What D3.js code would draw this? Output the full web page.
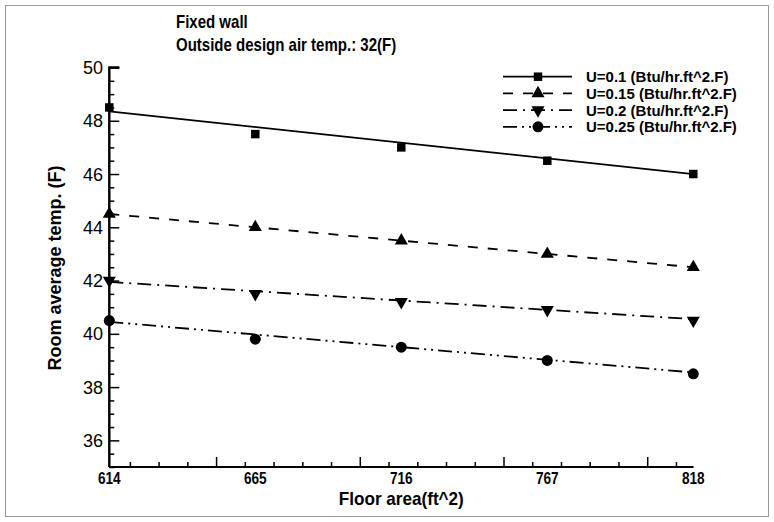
<!DOCTYPE html>
<html>
<head>
<meta charset="utf-8">
<script src="https://cdn.jsdelivr.net/npm/d3@7"></script>
<style>
  body { margin: 0; background: #fff; }
  .narrow { font-family: "Liberation Sans Narrow", "Arial Narrow", "Liberation Sans", Arial, sans-serif; font-weight: bold; }
  .plain { font-family: "Liberation Sans", Arial, sans-serif; }
</style>
</head>
<body>
<div id="chart"></div>
<script>
/////////////////////////////////////////////////////////////// Data //////////////////////////////////////////////////////////
const floorArea = [614, 665, 716, 767, 818];
const seriesNames = ["U=0.1 (Btu/hr.ft^2.F)", "U=0.15 (Btu/hr.ft^2.F)", "U=0.2 (Btu/hr.ft^2.F)", "U=0.25 (Btu/hr.ft^2.F)"];
const u010 = [48.5, 47.5, 47.0, 46.5, 46.0];
const u015 = [44.5, 44.0, 43.5, 43.0, 42.5];
const u020 = [42.0, 41.5, 41.2, 40.9, 40.5];
const u025 = [40.5, 39.8, 39.5, 39.0, 38.5];
// trend lines, value at 614 and at 818
const fit010 = [48.35, 46.0];
const fit015 = [44.5, 42.5];
const fit020 = [41.95, 40.55];
const fit025 = [40.45, 38.55];
const yTicks = [36, 38, 40, 42, 44, 46, 48, 50];
const xMajorTicks = [651.3, 701.5, 751.7, 801.9];

const allPoints = [u010, u015, u020, u025];
const allFits = [fit010, fit015, fit020, fit025];

/////////////////////////////////////////////////////////////// Set-Up //////////////////////////////////////////////////////////
const W = 774, H = 522;
const dashes = [null, "10,10", "14,6,2,6", "14,5,2,5,2,5"];
const symbols = [
  {type: d3.symbolSquare, size: 72, rot: 0},
  {type: d3.symbolTriangle, size: 74, rot: 0},
  {type: d3.symbolTriangle, size: 74, rot: 180},
  {type: d3.symbolCircle, size: 95, rot: 0}
];

const x = d3.scaleLinear().domain([614, 818]).range([109.3, 693.3]);
const y = d3.scaleLinear().domain([35, 50]).range([467, 67.5]);

// no condensed face installed, so squeeze the bold text instead
function narrow(sel, k) {
  sel.each(function() {
    const len = this.getComputedTextLength();
    d3.select(this).attr("textLength", len * (k || 0.82)).attr("lengthAdjust", "spacingAndGlyphs");
  });
}

const svg = d3.select("#chart")
  .append("svg")
    .attr("width", W)
    .attr("height", H);

svg.append("rect")
  .attr("x", 5.5).attr("y", 5.5)
  .attr("width", W - 11).attr("height", H - 11)
  .attr("fill", "none")
  .attr("stroke", "#999");

/////////////////////////////////////////////////////////////// Axes //////////////////////////////////////////////////////////
const yMinor = d3.range(35, 50.01, 0.5).filter(v => yTicks.indexOf(v) < 0);
const yAxisG = svg.append("g").attr("transform", "translate(" + x(614) + ",0)");
yAxisG.call(d3.axisRight(y).tickValues(yMinor).tickSize(5).tickFormat(""));
yAxisG.call(g => g.append("g").call(d3.axisRight(y).tickValues(yTicks).tickSize(10).tickFormat("")));
yAxisG.selectAll("path.domain").attr("stroke-width", 2).attr("d", "M0," + y(35) + "V" + y(50) + "H10");
yAxisG.selectAll("line").attr("stroke-width", 1.5).attr("stroke", "#000");

svg.selectAll("text.ylab")
  .data(yTicks)
  .enter().append("text")
  .attr("class", "ylab plain")
  .attr("x", 103)
  .attr("y", d => y(d) + 6.5)
  .attr("text-anchor", "end")
  .style("font-size", "18px")
  .text(d => d);

const step = (xMajorTicks[1] - xMajorTicks[0]) / 5;
const xMinor = d3.range(xMajorTicks[0] - 3 * step, 818, step)
  .filter(v => xMajorTicks.every(t => Math.abs(t - v) > 0.5));
const xAxisG = svg.append("g").attr("transform", "translate(0," + y(35) + ")");
xAxisG.call(d3.axisTop(x).tickValues(xMinor).tickSize(5).tickFormat(""));
xAxisG.call(g => g.append("g").call(d3.axisTop(x).tickValues(xMajorTicks).tickSize(10).tickFormat("")));
xAxisG.selectAll("path.domain").attr("stroke-width", 2).attr("d", "M" + x(614) + ",0H" + x(818));
xAxisG.selectAll("line").attr("stroke-width", 1.5).attr("stroke", "#000");

svg.selectAll("text.xlab")
  .data(floorArea)
  .enter().append("text")
  .attr("class", "xlab narrow")
  .attr("x", d => x(d))
  .attr("y", 484)
  .attr("text-anchor", "middle")
  .style("font-size", "16px")
  .text(d => d)
  .call(narrow, 0.85);

svg.append("text")
  .attr("class", "narrow")
  .attr("x", (x(614) + x(818)) / 2)
  .attr("y", 505)
  .attr("text-anchor", "middle")
  .style("font-size", "19px")
  .text("Floor area(ft^2)")
  .call(narrow, 0.9);

svg.append("text")
  .attr("class", "plain")
  .attr("transform", "translate(61," + 268 + ") rotate(-90)")
  .attr("text-anchor", "middle")
  .style("font-size", "18px")
  .style("font-weight", "bold")
  .text("Room average temp. (F)");

// titles
svg.append("text").attr("class", "narrow").attr("x", 176).attr("y", 28)
  .style("font-size", "19px").text("Fixed wall").call(narrow, 0.79);
svg.append("text").attr("class", "narrow").attr("x", 176).attr("y", 51)
  .style("font-size", "19px").text("Outside design air temp.: 32(F)").call(narrow, 0.79);

/////////////////////////////////////////////////////////////// Lines + markers //////////////////////////////////////////////////////////
const plot = svg.append("g");

allFits.forEach(function(f, i) {
  plot.append("line")
    .attr("x1", x(614)).attr("y1", y(f[0]))
    .attr("x2", x(818)).attr("y2", y(f[1]))
    .attr("stroke", "#000")
    .attr("stroke-width", 1.8)
    .attr("stroke-dasharray", dashes[i]);
});

allPoints.forEach(function(vals, i) {
  const sym = d3.symbol().type(symbols[i].type).size(symbols[i].size);
  plot.selectAll("path.s" + i)
    .data(vals)
    .enter().append("path")
    .attr("class", "s" + i)
    .attr("d", sym)
    .attr("transform", (d, j) => "translate(" + x(floorArea[j]) + "," + y(d) + ") rotate(" + symbols[i].rot + ")")
    .attr("fill", "#000");
});

/////////////////////////////////////////////////////////////// Legend //////////////////////////////////////////////////////////
const legend = svg.append("g").attr("transform", "translate(503,0)");
seriesNames.forEach(function(name, i) {
  const ly = 76.7 + i * 16.7;
  legend.append("line")
    .attr("x1", 0).attr("x2", 69)
    .attr("y1", ly).attr("y2", ly)
    .attr("stroke", "#000")
    .attr("stroke-width", 1.8)
    .attr("stroke-dasharray", dashes[i]);
  legend.append("path")
    .attr("d", d3.symbol().type(symbols[i].type).size(symbols[i].size))
    .attr("transform", "translate(35," + ly + ") rotate(" + symbols[i].rot + ")")
    .attr("fill", "#000");
  legend.append("text")
    .attr("class", "plain")
    .attr("x", 83)
    .attr("y", ly + 5.5)
    .style("font-size", "15px")
    .style("font-weight", "bold")
    .text(name);
});
</script>
</body>
</html>
